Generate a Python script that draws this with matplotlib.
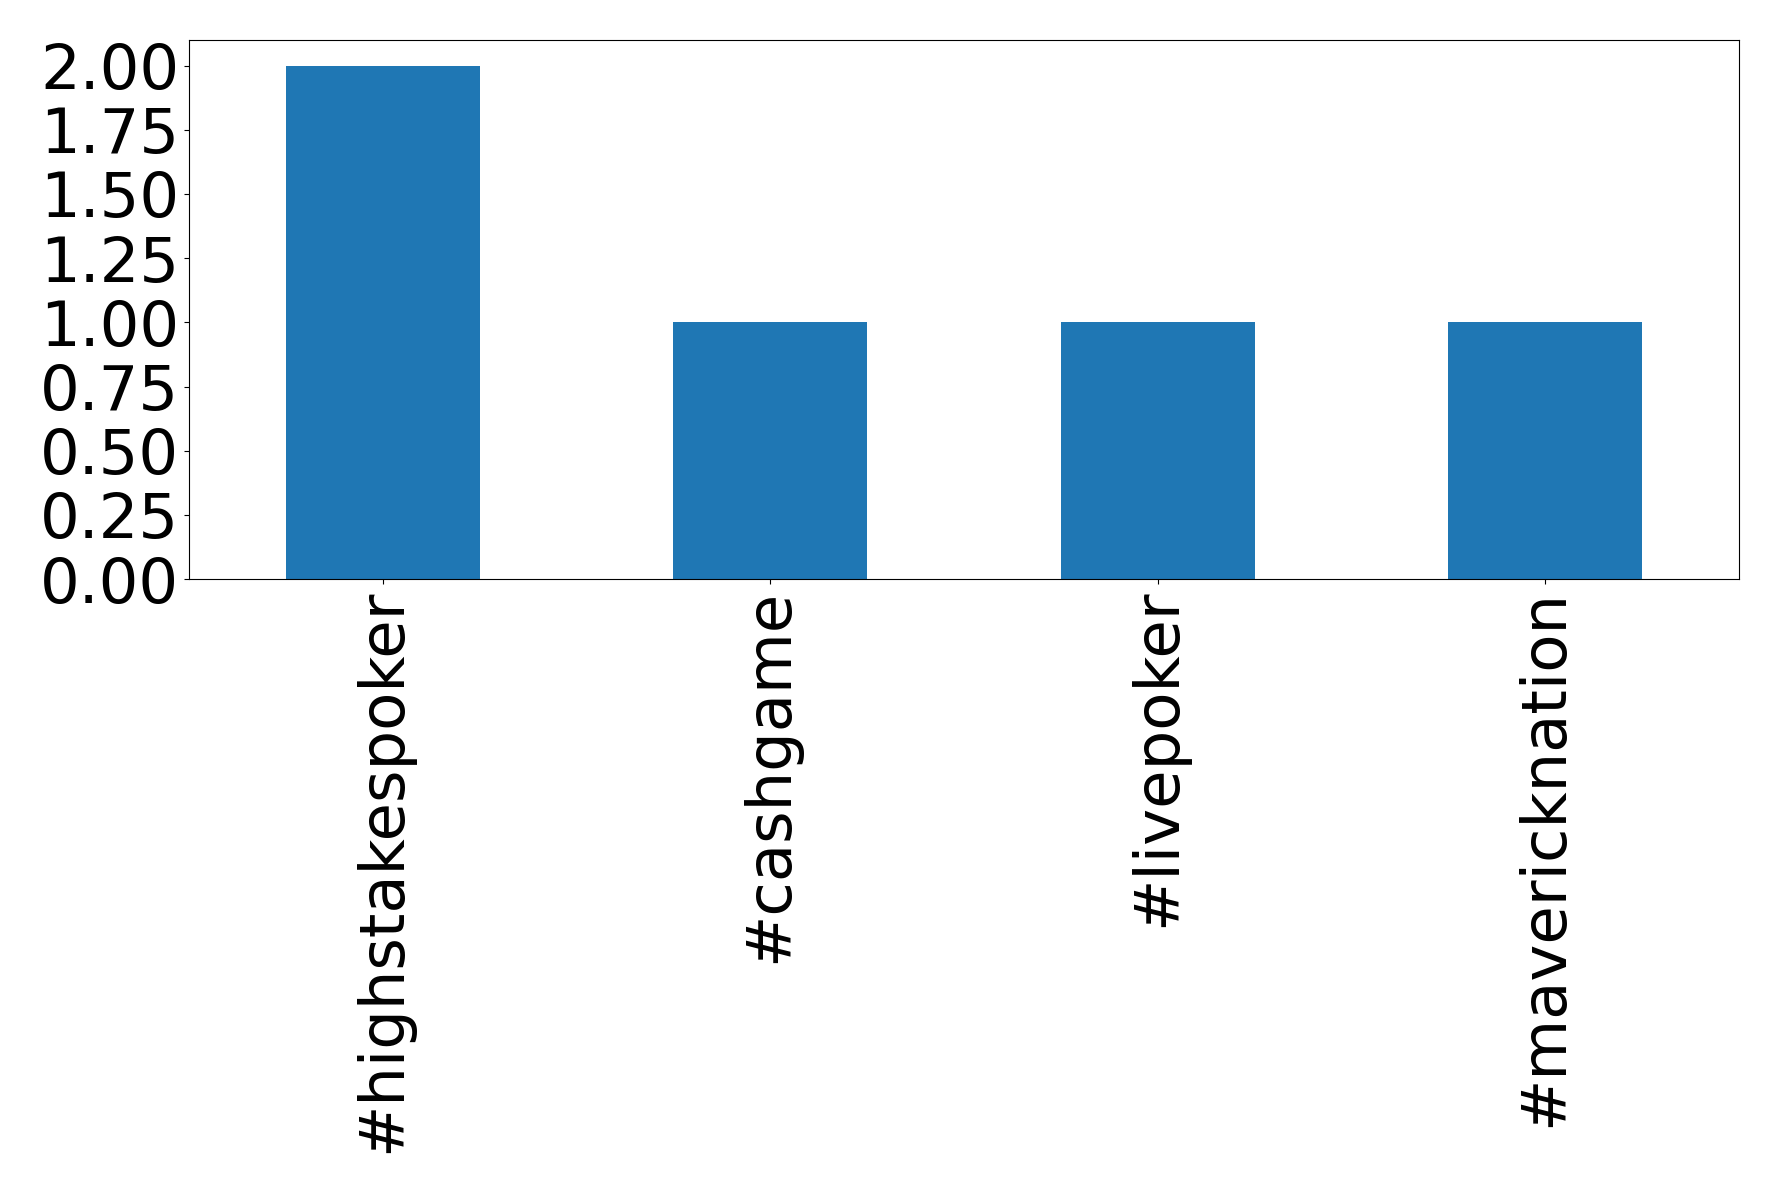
import pandas as pd
import matplotlib
matplotlib.use('Agg')
import matplotlib.pyplot as plt

# Hashtag counts
hashtags = ['#highstakespoker', '#cashgame', '#livepoker', '#mavericknation']
counts = [2, 1, 1, 1]

W, H = 1778, 1193
fig = plt.figure(figsize=(W / 100, H / 100), dpi=100)
# axes box in pixels: left 189, right 1739, top 40, bottom 579
ax = fig.add_axes([189 / W, 1 - 579 / H, (1739 - 189) / W, (579 - 40) / H])

s = pd.Series(counts, index=hashtags)
s.plot(kind='bar', ax=ax, color='#1f77b4', fontsize=45)
ax.set_yticks([0, 0.25, 0.5, 0.75, 1.0, 1.25, 1.5, 1.75, 2.0])
ax.set_yticklabels(['%.2f' % v for v in ax.get_yticks()])
plt.xticks(rotation=90)

fig.savefig('out.png', dpi=100)
